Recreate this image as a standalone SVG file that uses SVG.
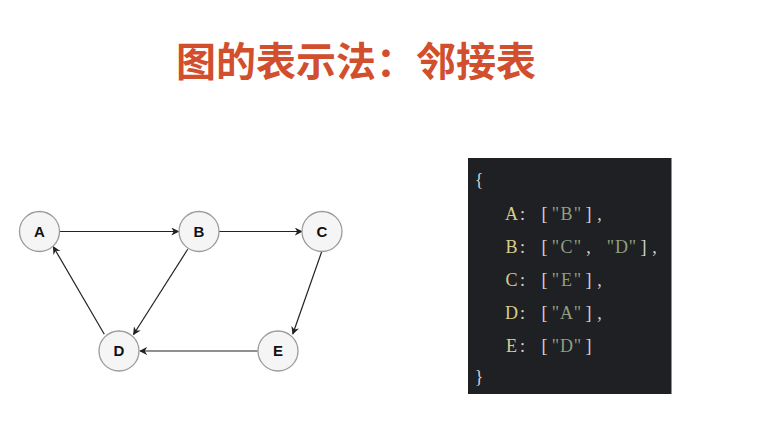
<svg xmlns="http://www.w3.org/2000/svg" width="766" height="437" viewBox="0 0 766 437">
<defs>
<style>
.title{font-family:"Noto Sans CJK SC","Noto Sans",sans-serif;font-weight:bold;font-size:40px;fill:#d24f2e}
.node circle{fill:#f5f5f5;stroke:#9b9b9b;stroke-width:1.3}
.node text{font-family:"Liberation Sans",Arial,sans-serif;font-weight:bold;font-size:15px;fill:#111;text-anchor:middle}
.edge{stroke:#222;stroke-width:1.2;fill:none;marker-end:url(#arr)}
.code{font-family:"Liberation Serif","DejaVu Serif",serif;font-size:18px;text-anchor:middle}
.k{fill:#d8cd8c}
.p{fill:#d2d2d2}
.s{fill:#8f9f80}
</style>
<marker id="arr" viewBox="0 0 10 10" refX="9" refY="5" markerWidth="8" markerHeight="8" markerUnits="userSpaceOnUse" orient="auto">
<path d="M0,0 L10,5 L0,10 L3,5 Z" fill="#222"/>
</marker>
</defs>
<rect width="766" height="437" fill="#ffffff"/>
<text class="title" x="176" y="76">图的表示法：邻接表</text>
<g id="connectors">
<line class="edge" x1="59.5" y1="231.5" x2="178.5" y2="231.5"/>
<line class="edge" x1="219" y1="231.5" x2="302" y2="231.5"/>
<line class="edge" x1="187.7" y1="249.3" x2="133.5" y2="334.5"/>
<line class="edge" x1="321.7" y1="251.7" x2="292.8" y2="334"/>
<line class="edge" x1="257.7" y1="351" x2="140" y2="351"/>
<line class="edge" x1="104.3" y1="334.3" x2="53.3" y2="246.7"/>
</g>
<g id="node-A" class="node"><circle cx="39.5" cy="231.5" r="20"/><text x="39.5" y="236.8">A</text></g>
<g id="node-B" class="node"><circle cx="199" cy="231.5" r="20"/><text x="199" y="236.8">B</text></g>
<g id="node-C" class="node"><circle cx="322" cy="231.5" r="20"/><text x="322" y="236.8">C</text></g>
<g id="node-D" class="node"><circle cx="119" cy="351" r="20"/><text x="119" y="356.3">D</text></g>
<g id="node-E" class="node"><circle cx="278" cy="351" r="20"/><text x="278" y="356.3">E</text></g>
<g id="code-block">
<rect x="468" y="158" width="203.5" height="236" fill="#1f2023"/>
<text class="code p" x="479" y="186">{</text>
<text class="code" y="220"><tspan class="k" x="511.5">A</tspan><tspan class="p" x="522.5 533.5 544.5">: [</tspan><tspan class="s" x="555.5 566.5 577.5">"B"</tspan><tspan class="p" x="588.5 599.5">],</tspan></text>
<text class="code" y="253"><tspan class="k" x="511.5">B</tspan><tspan class="p" x="522.5 533.5 544.5">: [</tspan><tspan class="s" x="555.5 566.5 577.5">"C"</tspan><tspan class="p" x="588.5 599.5">, </tspan><tspan class="s" x="610.5 621.5 632.5">"D"</tspan><tspan class="p" x="643.5 654.5">],</tspan></text>
<text class="code" y="286"><tspan class="k" x="511.5">C</tspan><tspan class="p" x="522.5 533.5 544.5">: [</tspan><tspan class="s" x="555.5 566.5 577.5">"E"</tspan><tspan class="p" x="588.5 599.5">],</tspan></text>
<text class="code" y="319"><tspan class="k" x="511.5">D</tspan><tspan class="p" x="522.5 533.5 544.5">: [</tspan><tspan class="s" x="555.5 566.5 577.5">"A"</tspan><tspan class="p" x="588.5 599.5">],</tspan></text>
<text class="code" y="352"><tspan class="k" x="511.5">E</tspan><tspan class="p" x="522.5 533.5 544.5">: [</tspan><tspan class="s" x="555.5 566.5 577.5">"D"</tspan><tspan class="p" x="588.5">]</tspan></text>
<text class="code p" x="479" y="383">}</text>
</g>
</svg>
